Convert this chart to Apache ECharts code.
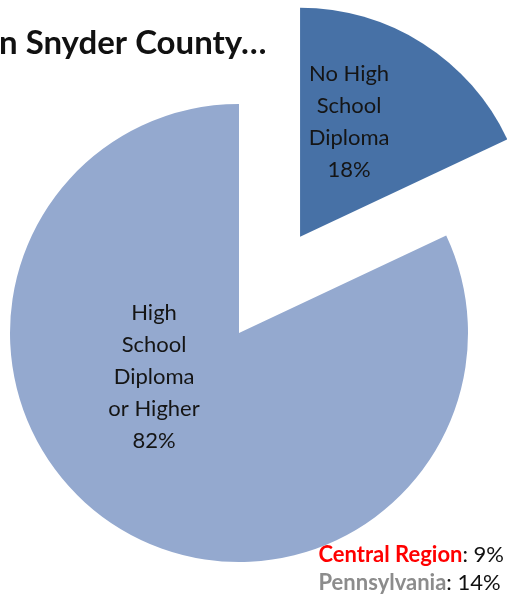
<!DOCTYPE html>
<html>
<head>
<meta charset="utf-8">
<script src="https://cdn.jsdelivr.net/npm/echarts@6/dist/echarts.min.js"></script>
<style>
html,body{margin:0;padding:0;background:#fff;}
#chart{width:507px;height:597px;}
</style>
</head>
<body>
<div id="chart"></div>
<script>
// Data
const categories = ['No High\nSchool\nDiploma', 'High\nSchool\nDiploma\nor Higher'];
const values = [18, 82];
const sliceColors = ['#4771a6', '#94a9cf'];
const titleText = 'n Snyder County…';
const compareNames = ['Central Region', 'Pennsylvania'];
const compareValues = [9, 14];

const chart = echarts.init(document.getElementById('chart'), null, {renderer: 'canvas'});
const FONT = 'Lato, "Open Sans", sans-serif';

const labelOffsets = [[-14, -16], [-22, -55]];

const option = {
  animation: false,
  backgroundColor: '#ffffff',
  series: [{
    type: 'pie',
    center: [239, 333],
    radius: 229,
    startAngle: 90,
    clockwise: true,
    selectedMode: 'single',
    selectedOffset: 114,
    avoidLabelOverlap: false,
    itemStyle: { borderWidth: 0 },
    emphasis: { disabled: true },
    label: {
      show: true,
      position: 'inside',
      formatter: '{b}\n{c}%',
      fontFamily: FONT,
      fontSize: 22,
      lineHeight: 32,
      color: '#151515',
      align: 'center'
    },
    labelLine: { show: false },
    labelLayout: function (p) {
      const o = labelOffsets[p.dataIndex];
      return { dx: o[0], dy: o[1] };
    },
    data: categories.map((c, i) => ({
      name: c,
      value: values[i],
      selected: i === 0,
      itemStyle: { color: sliceColors[i] }
    }))
  }],
  graphic: [
    {
      type: 'text',
      left: -1,
      top: 27,
      style: {
        text: titleText,
        font: 'bold 33px ' + FONT,
        fill: '#111111'
      }
    },
    {
      type: 'text',
      right: 3,
      top: 541,
      style: {
        text: '{r|' + compareNames[0] + '}{k|: ' + compareValues[0] + '%}\n{g|' + compareNames[1] + '}{k|: ' + compareValues[1] + '%}',
        align: 'right',
        lineHeight: 28,
        rich: {
          r: { fontFamily: FONT, fontSize: 22, fontWeight: 'bold', fill: '#ff0000', lineHeight: 28 },
          g: { fontFamily: FONT, fontSize: 22, fontWeight: 'bold', fill: '#8c8c8c', lineHeight: 28 },
          k: { fontFamily: FONT, fontSize: 22, fill: '#111111', lineHeight: 28 }
        }
      }
    }
  ]
};
chart.setOption(option);
</script>
</body>
</html>
